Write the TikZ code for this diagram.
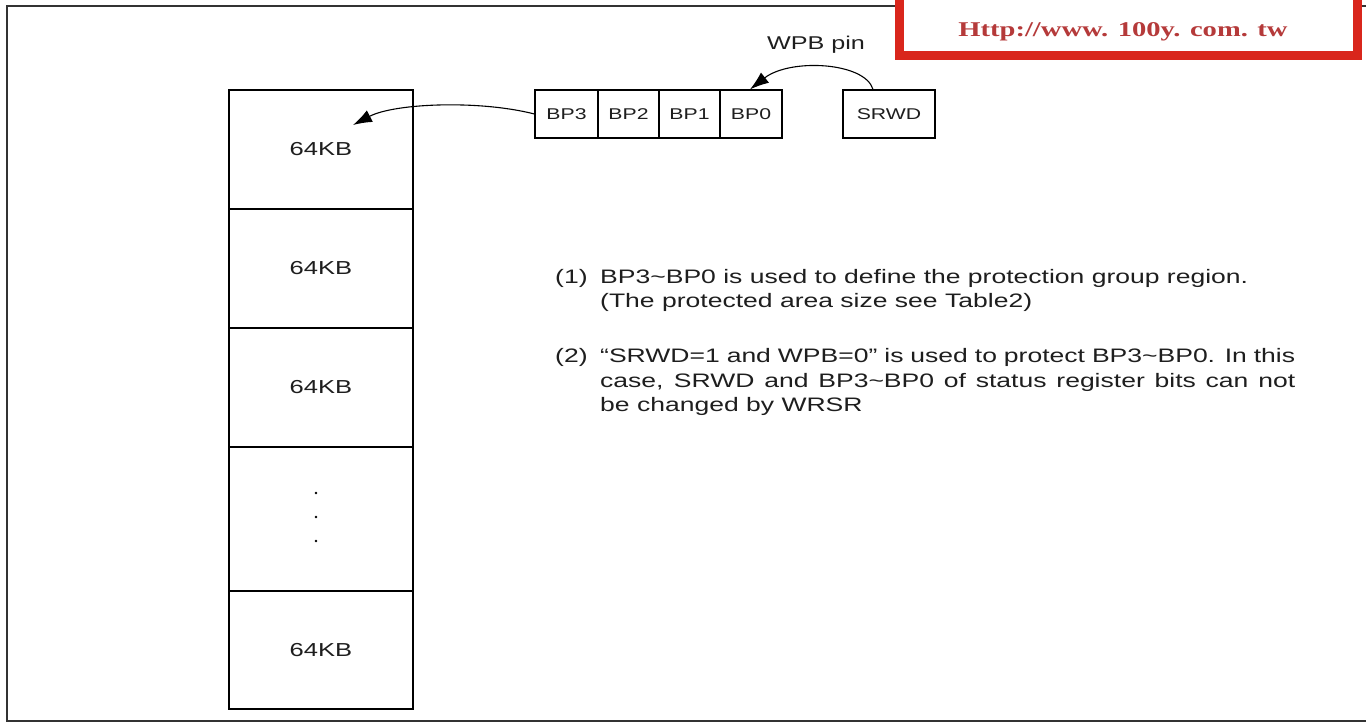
\documentclass[tikz,border=0pt]{standalone}
\usepackage{fontspec}
\setmainfont{Liberation Sans}[FakeStretch=1.36]
\newfontfamily\logofont{Liberation Serif}[FakeStretch=1.36]
\usetikzlibrary{arrows.meta}
\definecolor{ink}{HTML}{1E1E1E}
\definecolor{framegray}{HTML}{333333}
\definecolor{logored}{HTML}{D9261C}
\definecolor{logotext}{HTML}{B53A3A}
\begin{document}
\begin{tikzpicture}[x=1pt,y=-1pt,
  every node/.style={text=ink},
  memrow/.style={draw=black, line width=1.2pt, minimum width=184pt, inner sep=0pt,
    font=\fontsize{18.8}{22}\selectfont},
  regbox/.style={draw=black, line width=1.2pt, minimum height=48pt, inner sep=0pt,
    font=\fontsize{15.6}{18}\selectfont},
  arr/.style={line width=1.1pt, -{Latex[length=19pt,width=13pt]}},
  body/.style={font=\fontsize{19.5}{25}\selectfont, inner sep=0pt, anchor=base west},
]
\useasboundingbox (0,0) rectangle (1366,725);
\fill[white] (0,0) rectangle (1366,725);

% outer frame
\draw[framegray, line width=1.8pt] (1366,6) -- (7,6) -- (7,721) -- (1366,721);

% logo box (top right)
\filldraw[fill=white, draw=logored, line width=9pt] (899,-20) rectangle (1357.5,55.5);
\node[inner sep=0pt, anchor=base, text=logotext, font=\logofont\bfseries\fontsize{21}{24}\selectfont]
  (logo) at (1123,37) {Http://www. 100y. com. tw};

% memory column
\node[memrow, minimum height=119pt] (m1) at (321,149.5) {64KB};
\node[memrow, minimum height=119pt] (m2) at (321,268.5) {64KB};
\node[memrow, minimum height=119pt] (m3) at (321,387.5) {64KB};
\node[memrow, minimum height=144pt] (m4) at (321,519) {};
\node[memrow, minimum height=118pt] (m5) at (321,650) {64KB};
\foreach \yy in {493,517,541} \fill[black] (316,\yy) circle (1.3pt);

% status register bits
\node[regbox, minimum width=63pt] (bp3) at (566.5,114) {BP3};
\node[regbox, minimum width=61pt] (bp2) at (628.5,114) {BP2};
\node[regbox, minimum width=61pt] (bp1) at (689.5,114) {BP1};
\node[regbox, minimum width=62pt] (bp0) at (751,114) {BP0};
\node[regbox, minimum width=92pt] (srwd) at (889,114) {SRWD};

\node[inner sep=0pt, anchor=base, font=\fontsize{18.5}{22}\selectfont] (wpb) at (816,50) {WPB pin};

% arrows
\coordinate (tipA) at (353,125);
\draw[arr] ([xshift=-16pt]srwd.north) .. controls (865,62) and (790,58) .. ([xshift=-1pt]bp0.north);
\draw[arr] (bp3.west) .. controls (480,100) and (395,103) .. (tipA);

% notes
\node[body] (n1) at (555,283) {(1)};
\node[body] (n1a) at (600,283) {BP3\textasciitilde BP0 is used to define the protection group region.};
\node[body] (n1b) at (600,307) {(The protected area size see Table2)};
\node[body] (n2) at (555,362) {(2)};
\node[body] (n2a) at (600,362) {\makebox[695pt][s]{“SRWD=1 and WPB=0” is used to protect BP3\textasciitilde BP0. In this}};
\node[body] (n2b) at (600,387) {\makebox[695pt][s]{case, SRWD and BP3\textasciitilde BP0 of status register bits can not}};
\node[body] (n2c) at (600,411) {be changed by WRSR};
\end{tikzpicture}
\end{document}
